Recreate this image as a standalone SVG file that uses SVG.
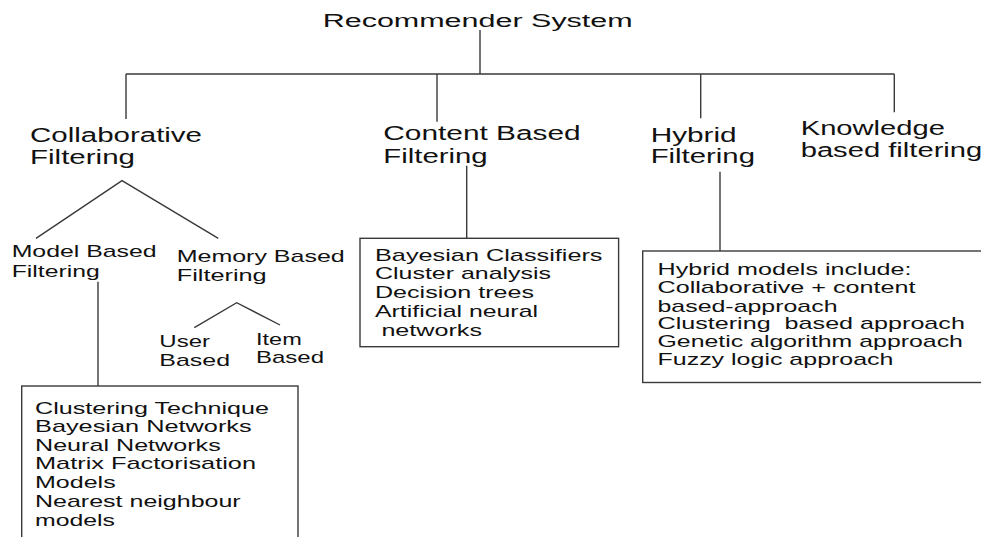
<svg xmlns="http://www.w3.org/2000/svg" width="981" height="537" viewBox="0 0 981 537">
<style>
text{font-family:"Liberation Sans",Arial,sans-serif;fill:#111;}
.t{font-size:18px;}
.b{font-size:19.5px;}
.s{font-size:17px;}
.ln{stroke:#3a3a3a;stroke-width:1.4;fill:none;}
.box{stroke:#3a3a3a;stroke-width:1.4;fill:#fff;}
</style>
<rect width="981" height="537" fill="#fff"/>
<g id="connectors">
<path class="ln" d="M480 30V74M126 74H894.3M126 74V119M437 74V121.7M700.7 74V118.3M894.3 74V112.3"/>
<path class="ln" d="M36 238.3L122 180.7L218.3 238.3"/>
<path class="ln" d="M98 281.7V386"/>
<path class="ln" d="M194.3 327.7L236.7 302.7L280 325"/>
<path class="ln" d="M466.7 165.7V238.3"/>
<path class="ln" d="M720 171.7V251"/>
</g>
<g id="root"><text class="t" x="322.7" y="27" textLength="310" lengthAdjust="spacingAndGlyphs">Recommender System</text></g>
<g id="collaborative">
<text class="b" x="30" y="142.3" textLength="172" lengthAdjust="spacingAndGlyphs">Collaborative</text>
<text class="b" x="30" y="164.3" textLength="105" lengthAdjust="spacingAndGlyphs">Filtering</text>
</g>
<g id="content">
<text class="b" x="383.3" y="140" textLength="197.4" lengthAdjust="spacingAndGlyphs">Content Based</text>
<text class="b" x="383.3" y="162.7" textLength="104.4" lengthAdjust="spacingAndGlyphs">Filtering</text>
</g>
<g id="hybrid">
<text class="b" x="650.7" y="141.7" textLength="86" lengthAdjust="spacingAndGlyphs">Hybrid</text>
<text class="b" x="650.7" y="163.3" textLength="104.3" lengthAdjust="spacingAndGlyphs">Filtering</text>
</g>
<g id="knowledge">
<text class="b" x="800.7" y="135" textLength="144.3" lengthAdjust="spacingAndGlyphs">Knowledge</text>
<text class="b" x="800.7" y="156.7" textLength="181.6" lengthAdjust="spacingAndGlyphs">based filtering</text>
</g>
<g id="model-based">
<text class="s" x="11.7" y="257.3" textLength="145" lengthAdjust="spacingAndGlyphs">Model Based</text>
<text class="s" x="11.7" y="276.7" textLength="88" lengthAdjust="spacingAndGlyphs">Filtering</text>
</g>
<g id="memory-based">
<text class="s" x="176.7" y="261.7" textLength="168" lengthAdjust="spacingAndGlyphs">Memory Based</text>
<text class="s" x="176.7" y="281" textLength="90" lengthAdjust="spacingAndGlyphs">Filtering</text>
</g>
<g id="user-based">
<text class="s" x="159.3" y="347.3" textLength="50.7" lengthAdjust="spacingAndGlyphs">User</text>
<text class="s" x="159.3" y="365.7" textLength="70.7" lengthAdjust="spacingAndGlyphs">Based</text>
</g>
<g id="item-based">
<text class="s" x="256" y="345" textLength="45.7" lengthAdjust="spacingAndGlyphs">Item</text>
<text class="s" x="256" y="362.7" textLength="68" lengthAdjust="spacingAndGlyphs">Based</text>
</g>
<g id="model-box">
<rect class="box" x="21.7" y="386" width="276.3" height="160"/>
<text class="s" x="35" y="414" textLength="234" lengthAdjust="spacingAndGlyphs">Clustering Technique</text>
<text class="s" x="35" y="432.3" textLength="216.7" lengthAdjust="spacingAndGlyphs">Bayesian Networks</text>
<text class="s" x="35" y="450.7" textLength="185.7" lengthAdjust="spacingAndGlyphs">Neural Networks</text>
<text class="s" x="35" y="469" textLength="221" lengthAdjust="spacingAndGlyphs">Matrix Factorisation</text>
<text class="s" x="35" y="488.3" textLength="80.7" lengthAdjust="spacingAndGlyphs">Models</text>
<text class="s" x="35" y="506.7" textLength="205.7" lengthAdjust="spacingAndGlyphs">Nearest neighbour</text>
<text class="s" x="35" y="525.7" textLength="80" lengthAdjust="spacingAndGlyphs">models</text>
</g>
<g id="content-box">
<rect class="box" x="360" y="238.3" width="258.6" height="108.4"/>
<text class="s" x="375" y="260.7" textLength="227.5" lengthAdjust="spacingAndGlyphs">Bayesian Classifiers</text>
<text class="s" x="375" y="279.3" textLength="176" lengthAdjust="spacingAndGlyphs">Cluster analysis</text>
<text class="s" x="375" y="298.3" textLength="159" lengthAdjust="spacingAndGlyphs">Decision trees</text>
<text class="s" x="375" y="316.7" textLength="163" lengthAdjust="spacingAndGlyphs">Artificial neural</text>
<text class="s" x="381.4" y="335.7" textLength="100.6" lengthAdjust="spacingAndGlyphs">networks</text>
</g>
<g id="hybrid-box">
<rect class="box" x="642.7" y="251" width="345" height="131.5"/>
<text class="s" x="657.5" y="275" textLength="254" lengthAdjust="spacingAndGlyphs">Hybrid models include:</text>
<text class="s" x="657.5" y="293.3" textLength="258" lengthAdjust="spacingAndGlyphs">Collaborative + content</text>
<text class="s" x="657.5" y="311.7" textLength="180" lengthAdjust="spacingAndGlyphs">based-approach</text>
<text class="s" x="657.5" y="329.3" textLength="307.4" lengthAdjust="spacingAndGlyphs" xml:space="preserve">Clustering  based approach</text>
<text class="s" x="657.5" y="346.7" textLength="305.4" lengthAdjust="spacingAndGlyphs">Genetic algorithm approach</text>
<text class="s" x="657.5" y="365" textLength="236" lengthAdjust="spacingAndGlyphs">Fuzzy logic approach</text>
</g>
</svg>
